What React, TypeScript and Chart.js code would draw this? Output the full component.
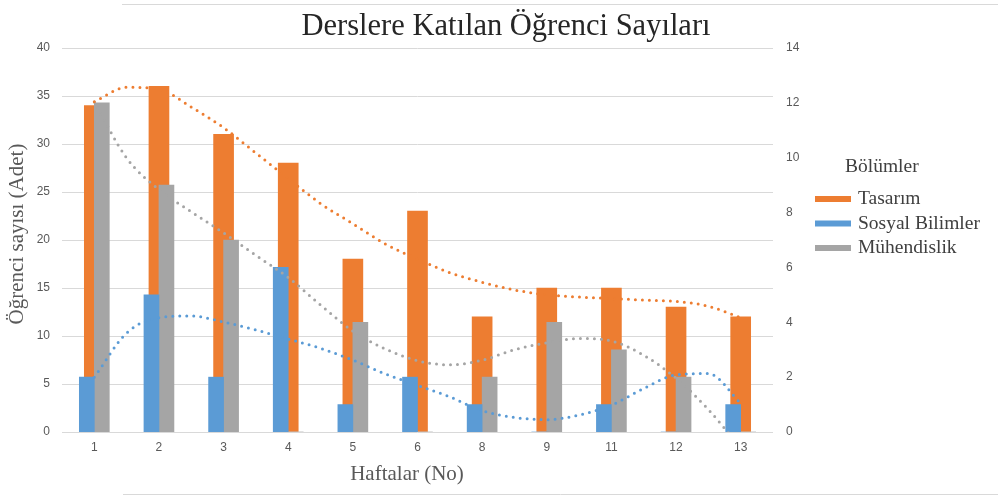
import React, { useEffect, useRef } from "react";
import { Chart, registerables } from "chart.js";

Chart.register(...registerables);

// ---- Data ----
const weeks = ["1", "2", "3", "4", "5", "6", "8", "9", "11", "12", "13"];
const tasarim = [34, 36, 31, 28, 18, 23, 12, 15, 15, 13, 12]; // left axis
const sosyalBilimler = [2, 5, 2, 6, 1, 2, 1, 0, 1, 0, 1]; // right axis
const muhendislik = [12, 9, 7, 0, 4, 0, 2, 4, 3, 2, 0]; // right axis

// Trendline values at half-category steps
const trendX = [0, 0.5, 1, 1.5, 2, 2.5, 3, 3.5, 4, 4.5, 5, 5.5, 6, 6.5, 7, 7.5, 8, 8.5, 9, 9.5, 10];
const tasarimTrend = [34.4, 35.9, 35.7, 33.85, 31.7, 29.06, 26.4, 23.8, 21.7, 19.6, 18.0, 16.6, 15.6, 14.8, 14.3, 14.06, 13.9, 13.75, 13.6, 13.1, 11.9];
const sosyalTrend = [2.0, 3.61, 4.17, 4.23, 4.01, 3.72, 3.39, 3.05, 2.62, 2.12, 1.7, 1.28, 0.78, 0.53, 0.45, 0.62, 0.98, 1.59, 2.08, 2.13, 1.05];
const muhendislikTrend = [12.03, 9.99, 8.84, 8.03, 7.26, 6.44, 5.63, 4.63, 3.68, 3.03, 2.6, 2.45, 2.62, 3.0, 3.25, 3.41, 3.32, 2.8, 1.96, 0.82, -0.58];

const leftMax = 40;
const leftStep = 5;
const rightMax = 14;
const rightStep = 2;

const chartTitle = "Derslere Katılan Öğrenci Sayıları";
const xTitle = "Haftalar (No)";
const yTitle = "Öğrenci sayısı (Adet)";
const legendTitle = "Bölümler";
const seriesNames = ["Tasarım", "Sosyal Bilimler", "Mühendislik"];

const ORANGE = "#ED7D31";
const BLUE = "#5B9BD5";
const GRAY = "#A5A5A5";
const seriesColors = [ORANGE, BLUE, GRAY];

const SERIF = '"Liberation Serif", "DejaVu Serif", serif';
const SANS = '"Liberation Sans", Arial, sans-serif';

const toPoints = (vals: number[]) => trendX.map((x, i) => ({ x, y: vals[i] }));

const decorPlugin = {
  id: "decor",
  afterDraw(chart: any) {
    const ctx = chart.ctx as CanvasRenderingContext2D;
    ctx.save();
    // frame lines
    ctx.strokeStyle = "#D9D9D9";
    ctx.lineWidth = 1;
    ctx.beginPath();
    ctx.moveTo(122, 4.5);
    ctx.lineTo(998, 4.5);
    ctx.moveTo(123, 494.5);
    ctx.lineTo(998, 494.5);
    ctx.stroke();

    // title
    ctx.fillStyle = "#262626";
    ctx.font = `30.5px ${SERIF}`;
    ctx.textAlign = "center";
    ctx.textBaseline = "alphabetic";
    ctx.fillText(chartTitle, 506, 35);

    // axis titles
    ctx.fillStyle = "#595959";
    ctx.font = `21px ${SERIF}`;
    ctx.fillText(xTitle, 407, 480);
    ctx.save();
    ctx.translate(23, 234);
    ctx.rotate(-Math.PI / 2);
    ctx.fillText(yTitle, 0, 0);
    ctx.restore();

    // legend
    ctx.textAlign = "left";
    ctx.font = `19.5px ${SERIF}`;
    ctx.fillStyle = "#404040";
    ctx.fillText(legendTitle, 845, 172);
    const rows = [204, 228.5, 253];
    seriesNames.forEach((name, i) => {
      ctx.fillStyle = seriesColors[i];
      ctx.fillRect(815, rows[i] - 8, 36, 6);
      ctx.fillStyle = "#404040";
      ctx.fillText(name, 858, rows[i]);
    });
    ctx.restore();
  },
};

export default function App() {
  const canvasRef = useRef<HTMLCanvasElement | null>(null);

  useEffect(() => {
    document.body.style.margin = "0";
    const canvas = canvasRef.current;
    if (!canvas) return;

    const trendCommon = {
      type: "line" as const,
      xAxisID: "xt",
      borderWidth: 3,
      borderDash: [0, 7],
      borderCapStyle: "round" as const,
      pointRadius: 0,
      pointHoverRadius: 0,
      fill: false,
      cubicInterpolationMode: "monotone" as const,
      order: 0,
    };

    const chart = new Chart(canvas, {
      type: "bar",
      data: {
        labels: weeks,
        datasets: [
          {
            ...trendCommon,
            label: "Tasarım trend",
            data: toPoints(tasarimTrend),
            yAxisID: "y",
            borderColor: ORANGE,
          } as any,
          {
            ...trendCommon,
            label: "Sosyal Bilimler trend",
            data: toPoints(sosyalTrend),
            yAxisID: "y1",
            borderColor: BLUE,
          } as any,
          {
            ...trendCommon,
            label: "Mühendislik trend",
            data: toPoints(muhendislikTrend),
            yAxisID: "y1",
            borderColor: GRAY,
          } as any,
          {
            type: "bar",
            label: seriesNames[0],
            data: tasarim,
            backgroundColor: ORANGE,
            xAxisID: "x2",
            yAxisID: "y",
            barThickness: 20,
            order: 2,
          } as any,
          {
            type: "bar",
            label: seriesNames[1],
            data: sosyalBilimler,
            backgroundColor: BLUE,
            xAxisID: "x",
            yAxisID: "y1",
            barThickness: 15,
            order: 1,
          } as any,
          {
            type: "bar",
            label: seriesNames[2],
            data: muhendislik,
            backgroundColor: GRAY,
            xAxisID: "x",
            yAxisID: "y1",
            barThickness: 15,
            order: 1,
          } as any,
        ],
      },
      options: {
        responsive: false,
        animation: false,
        layout: { padding: { top: 48, left: 0, right: 0, bottom: 0 } },
        plugins: {
          legend: { display: false },
          title: { display: false },
          tooltip: { enabled: false },
        },
        scales: {
          x: {
            type: "category",
            offset: true,
            grid: { display: false, drawTicks: false },
            border: { display: false },
            ticks: {
              color: "#595959",
              font: { family: SANS, size: 12 },
              padding: 8,
              maxRotation: 0,
              autoSkip: false,
            },
            afterFit: (s: any) => {
              s.height = 64;
            },
          },
          x2: {
            type: "category",
            offset: true,
            display: false,
          },
          xt: {
            type: "linear",
            display: false,
            offset: false,
            min: -0.5,
            max: 10.5,
          },
          y: {
            type: "linear",
            position: "left",
            min: 0,
            max: leftMax,
            grid: { color: "#D9D9D9", drawTicks: false, lineWidth: 1 },
            border: { display: false },
            ticks: {
              stepSize: leftStep,
              color: "#595959",
              font: { family: SANS, size: 12 },
              padding: 12,
            },
            afterFit: (s: any) => {
              s.width = 62;
            },
          },
          y1: {
            type: "linear",
            position: "right",
            min: 0,
            max: rightMax,
            grid: { display: false, drawTicks: false },
            border: { display: false },
            ticks: {
              stepSize: rightStep,
              color: "#595959",
              font: { family: SANS, size: 12 },
              padding: 13,
            },
            afterFit: (s: any) => {
              s.width = 225;
            },
          },
        },
      } as any,
      plugins: [decorPlugin],
    });

    return () => {
      chart.destroy();
    };
  }, []);

  return (
    <div style={{ width: 998, height: 496, position: "relative" }}>
      <canvas ref={canvasRef} width={998} height={496} style={{ display: "block" }} />
    </div>
  );
}
